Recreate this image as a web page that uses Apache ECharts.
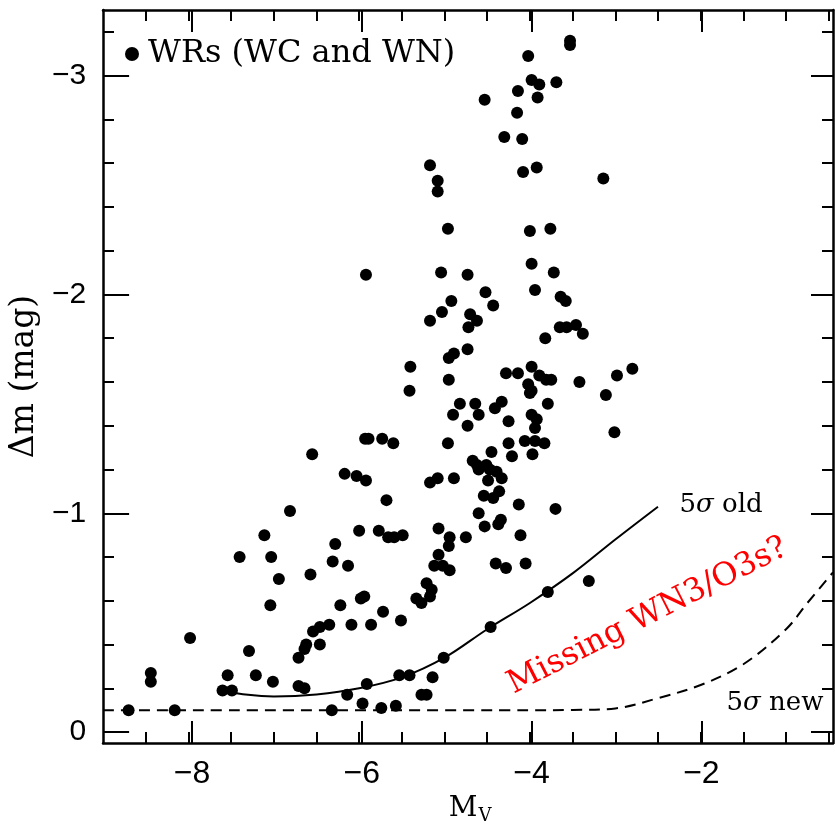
<!DOCTYPE html>
<html>
<head>
<meta charset="utf-8">
<script src="https://cdn.jsdelivr.net/npm/echarts@6/dist/echarts.min.js"></script>
<style>html,body{margin:0;padding:0;background:#fff}#c{width:835px;height:838px}</style>
</head>
<body>
<div id="c"></div>
<script>
// ---- data: WR stars (M_V, delta m) ----
const wrX = [
 -6.55,-5.93,-5.89,-5.73,-5.60,-6.17,-6.03,-5.92,-5.68,-6.81,-6.00,-5.77,-5.66,-5.59,-5.49,-7.11,-7.40,-7.03,-6.94,-6.57,
 -6.28,-6.31,-6.13,-7.04,-6.22,-5.98,-5.94,-5.72,-5.51,-6.35,-6.09,-5.86,-6.54,-6.46,-6.62,-6.64,-6.71,-6.46,-7.98,-7.29,
 -8.44,-8.44,-7.54,-7.21,-7.01,-7.60,-7.49,-6.71,-6.64,-6.14,-5.91,-5.53,-5.41,-8.70,-8.16,-6.32,-5.96,-5.74,-5.57,
 -4.96,-4.25,-4.06,-3.94,-3.83,-3.01,-4.45,-4.21,-3.97,-4.67,-4.62,-4.60,-4.51,-4.47,-4.39,-4.33,-4.49,-5.17,-5.08,-4.89,
 -4.54,-4.43,-4.36,-4.13,-3.70,-4.60,-4.53,-4.37,-4.34,-5.07,-4.94,-4.95,-4.75,-5.07,-4.11,-5.12,-5.02,-4.94,-4.40,-4.28,
 -4.05,-5.21,-5.15,-5.17,-5.33,-5.27,-3.31,-3.79,-4.46,-5.01,-5.14,-5.27,-5.21,
 -5.04,-4.73,-4.52,-4.92,-5.03,-5.17,-4.70,-4.62,-4.72,-4.43,-3.98,-3.72,-3.94,-3.64,-3.58,-3.65,-3.57,-3.46,-3.38,-3.82,
 -5.40,-5.41,-4.95,-4.89,-4.73,-4.95,-4.28,-4.14,-3.98,-3.89,-3.81,-3.75,-4.02,-3.98,-4.00,-3.42,-2.98,-2.80,-3.11,-4.82,
 -4.64,-4.60,-4.90,-4.73,-4.41,-4.33,-4.25,-3.79,-3.98,-3.92,-3.94,
 -3.53,-3.53,-4.02,-3.98,-3.89,-3.69,-4.14,-3.91,-4.53,-4.15,-4.30,-4.09,-5.17,-5.08,-5.08,-4.08,-3.92,-3.14,-4.96,-4.00,
 -3.76,-5.92
];
const wrY = [
 -1.27,-1.34,-1.34,-1.34,-1.32,-1.18,-1.17,-1.15,-1.06,-1.01,-0.92,-0.92,-0.89,-0.89,-0.90,-0.90,-0.80,-0.80,-0.70,-0.72,
 -0.86,-0.78,-0.76,-0.58,-0.58,-0.61,-0.62,-0.55,-0.51,-0.49,-0.49,-0.49,-0.46,-0.48,-0.40,-0.38,-0.34,-0.40,-0.43,-0.37,
 -0.27,-0.23,-0.26,-0.26,-0.23,-0.19,-0.19,-0.21,-0.20,-0.17,-0.22,-0.26,-0.26,-0.10,-0.10,-0.10,-0.13,-0.11,-0.12,
 -1.32,-1.32,-1.33,-1.33,-1.32,-1.37,-1.28,-1.26,-1.27,-1.24,-1.22,-1.20,-1.22,-1.20,-1.19,-1.16,-1.15,-1.14,-1.16,-1.16,
 -1.08,-1.07,-1.10,-1.04,-1.02,-1.00,-0.94,-0.95,-0.97,-0.93,-0.89,-0.85,-0.89,-0.81,-0.90,-0.76,-0.76,-0.74,-0.77,-0.75,
 -0.77,-0.68,-0.65,-0.62,-0.61,-0.59,-0.69,-0.64,-0.48,-0.34,-0.25,-0.17,-0.17,
 -2.10,-2.09,-2.01,-1.97,-1.92,-1.88,-1.91,-1.88,-1.85,-1.95,-2.14,-2.10,-2.02,-1.99,-1.97,-1.85,-1.85,-1.86,-1.82,-1.80,
 -1.67,-1.56,-1.71,-1.73,-1.75,-1.61,-1.64,-1.64,-1.67,-1.63,-1.61,-1.61,-1.59,-1.56,-1.55,-1.60,-1.63,-1.66,-1.54,-1.50,
 -1.50,-1.45,-1.45,-1.40,-1.48,-1.51,-1.42,-1.50,-1.45,-1.43,-1.39,
 -3.16,-3.14,-3.09,-2.98,-2.96,-2.97,-2.93,-2.90,-2.89,-2.83,-2.72,-2.71,-2.59,-2.52,-2.47,-2.56,-2.58,-2.53,-2.30,-2.29,
 -2.30,-2.09
];

// ---- 5 sigma detection limits ----
const oldLimitX = [-7.62,-7.3,-7.0,-6.5,-6.0,-5.5,-5.0,-4.5,-4.0,-3.5,-3.0,-2.5];
const oldLimitY = [-0.19,-0.17,-0.163,-0.172,-0.20,-0.25,-0.34,-0.47,-0.59,-0.725,-0.88,-1.03];
const newLimitX = [-9.0,-4.0,-3.5,-3.0,-2.5,-2.0,-1.5,-1.0,-0.75,-0.45];
const newLimitY = [-0.10,-0.10,-0.101,-0.108,-0.155,-0.215,-0.31,-0.47,-0.59,-0.73];

// ---- axis ticks ----
const xMajorTicks = [-8,-6,-4,-2];
const xMinorTicks = [-8.5,-8,-7.5,-7,-6.5,-6,-5.5,-5,-4.5,-4,-3.5,-3,-2.5,-2,-1.5,-1,-0.5];
const yMajorTicks = [-3,-2,-1,0];
const yMinorTicks = [-3.2,-3.0,-2.8,-2.6,-2.4,-2.2,-2.0,-1.8,-1.6,-1.4,-1.2,-1.0,-0.8,-0.6,-0.4,-0.2,0];

// ---- text annotations (data coordinates) ----
const noteText = ['5{i|σ} old', '5{i|σ} new', 'Missing WN3/O3s?'];
const noteX = [-1.76, -1.13, -2.62];
const noteY = [-1.035, -0.13, -0.53];

const zip = (a, b) => a.map((v, i) => [v, b[i]]);
const minus = v => String(v).replace('-', '\u2212');

const X_MIN = -9, X_MAX = -0.45, Y_MIN = -3.3, Y_MAX = 0.05;
const gridBox = {left: 103, right: 2, top: 10, bottom: 95};
const black = '#000';

function xAx(grid, pos, ticks, len, extra) {
  return Object.assign({
    type: 'value', gridIndex: grid, position: pos, min: X_MIN, max: X_MAX,
    axisLine: {show: grid === 0, onZero: false, lineStyle: {color: black, width: 2.5}},
    axisTick: {show: true, inside: true, length: len, customValues: ticks, lineStyle: {color: black, width: 2}},
    axisLabel: {show: false}, splitLine: {show: false}
  }, extra || {});
}
function yAx(grid, pos, ticks, len, extra) {
  return Object.assign({
    type: 'value', gridIndex: grid, position: pos, min: Y_MIN, max: Y_MAX, inverse: true,
    axisLine: {show: grid === 0, onZero: false, lineStyle: {color: black, width: 2.5}},
    axisTick: {show: true, inside: true, length: len, customValues: ticks, lineStyle: {color: black, width: 2}},
    axisLabel: {show: false}, splitLine: {show: false}
  }, extra || {});
}

const chart = echarts.init(document.getElementById('c'), null, {renderer: 'canvas'});
chart.setOption({
  animation: false,
  backgroundColor: '#fff',
  grid: [Object.assign({}, gridBox), Object.assign({}, gridBox)],
  legend: {
    data: ['WRs (WC and WN)'], left: 120, top: 33, icon: 'circle', itemWidth: 14, itemHeight: 14,
    textStyle: {fontFamily: 'DejaVu Serif', fontSize: 32, color: black, padding: [0, 0, 0, 4]},
    selectedMode: false
  },
  xAxis: [
    xAx(0, 'bottom', xMinorTicks, 11),
    xAx(0, 'top', xMinorTicks, 11),
    xAx(1, 'bottom', xMajorTicks, 22, {
      axisLabel: {show: true, customValues: xMajorTicks, formatter: minus, margin: 15,
        fontFamily: 'Liberation Sans', fontSize: 32, color: black},
      name: '{m|M}{v|V}', nameLocation: 'middle', nameGap: 48,
      nameTextStyle: {rich: {
        m: {fontFamily: 'DejaVu Serif', fontSize: 28, color: black},
        v: {fontFamily: 'DejaVu Serif', fontSize: 18, color: black, padding: [14, 0, 0, 1]}
      }}
    }),
    xAx(1, 'top', xMajorTicks, 22)
  ],
  yAxis: [
    yAx(0, 'left', yMinorTicks, 11),
    yAx(0, 'right', yMinorTicks, 11),
    yAx(1, 'left', yMajorTicks, 22, {
      axisLabel: {show: true, customValues: yMajorTicks, formatter: minus, margin: 21,
        fontFamily: 'Liberation Sans', fontSize: 30, color: black},
      name: 'Δm (mag)', nameLocation: 'middle', nameGap: 46,
      nameTextStyle: {fontFamily: 'DejaVu Serif', fontSize: 33, color: black}
    }),
    yAx(1, 'right', yMajorTicks, 22)
  ],
  series: [
    {
      name: 'WRs (WC and WN)', type: 'scatter', xAxisIndex: 0, yAxisIndex: 0,
      symbol: 'circle', symbolSize: 12, itemStyle: {color: black, opacity: 1},
      data: zip(wrX, wrY), z: 3
    },
    {
      name: '5σ old', type: 'line', xAxisIndex: 0, yAxisIndex: 0, smooth: 0.35,
      showSymbol: false, lineStyle: {color: black, width: 2}, data: zip(oldLimitX, oldLimitY), z: 2
    },
    {
      name: '5σ new', type: 'line', xAxisIndex: 0, yAxisIndex: 0, smooth: 0.35,
      showSymbol: false, lineStyle: {color: black, width: 2, type: [11, 7]}, data: zip(newLimitX, newLimitY), z: 2
    },
    {
      name: 'notes', type: 'scatter', xAxisIndex: 0, yAxisIndex: 0, symbolSize: 0, silent: true,
      itemStyle: {opacity: 1},
      data: noteX.map((x, i) => {
        const red = i === 2;
        return {
          value: [x, noteY[i]],
          label: {
            show: true, position: 'inside', formatter: noteText[i],
            rotate: red ? 27 : 0, opacity: 1,
            fontFamily: 'DejaVu Serif', fontSize: red ? 32 : 26, color: red ? '#ff0000' : black,
            rich: {i: {fontFamily: 'DejaVu Serif', fontStyle: 'italic', fontSize: 26, color: black}}
          }
        };
      })
    }
  ]
});
</script>
</body>
</html>
